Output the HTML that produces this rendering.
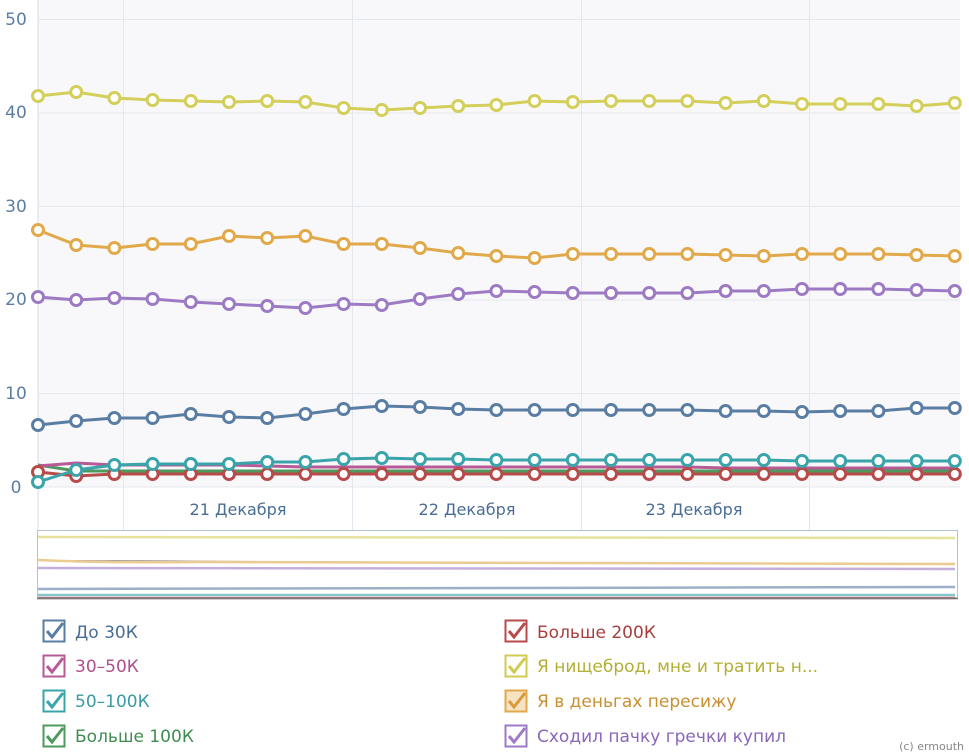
<!DOCTYPE html>
<html><head><meta charset="utf-8"><style>
body{margin:0;background:#fff;width:969px;height:755px;overflow:hidden;font-family:Tahoma,"DejaVu Sans","Liberation Sans",sans-serif}
</style></head><body>
<svg id="s" width="969" height="755" xmlns="http://www.w3.org/2000/svg" style="position:absolute;left:0;top:0">
<rect x="38" y="0" width="922" height="487" fill="#f8f8fa"/>
<line x1="38" y1="0" x2="38" y2="530" stroke="#d5dbe5" stroke-width="1"/>
<g stroke="#e3e7ee" stroke-width="1">
<line x1="38" y1="19.5" x2="960" y2="19.5"/><line x1="38" y1="113" x2="960" y2="113"/><line x1="38" y1="206.5" x2="960" y2="206.5"/><line x1="38" y1="300" x2="960" y2="300"/><line x1="38" y1="393.5" x2="960" y2="393.5"/><line x1="38" y1="487" x2="960" y2="487"/>
<line x1="123.5" y1="0" x2="123.5" y2="530"/><line x1="352.5" y1="0" x2="352.5" y2="530"/><line x1="581.5" y1="0" x2="581.5" y2="530"/><line x1="809.5" y1="0" x2="809.5" y2="530"/>
</g>
<g fill="#5a7da4" font-size="17" text-anchor="middle">
<text x="16" y="25">50</text><text x="16" y="118">40</text><text x="16" y="212">30</text><text x="16" y="305">20</text><text x="16" y="399">10</text><text x="16" y="493">0</text>
</g>
<g fill="#4a6d96" font-size="16" text-anchor="middle">
<text x="238" y="515">21 Декабря</text><text x="467" y="515">22 Декабря</text><text x="694" y="515">23 Декабря</text>
</g>
<rect x="37.5" y="530.5" width="920" height="67" fill="#fff" stroke="#b4c3d4"/>
<g stroke-width="2.5" opacity="0.6">
<path d="M38 537 L955 538" stroke="#d3cf5a"/>
<path d="M38 560 Q100 563 200 562 L955 564" stroke="#e1a94a"/>
<path d="M38 568 L955 569" stroke="#9d7bc4"/>
<path d="M38 589 L955 587" stroke="#5a7da4"/>
<path d="M38 595 L955 595" stroke="#3aa4ab"/>
<path d="M38 598 L955 598" stroke="#b84a4a"/>
</g>
<line x1="37" y1="598.5" x2="958" y2="598.5" stroke="#777" stroke-width="1.5"/>
<g id="series"></g>
<g font-size="17">
<g transform="translate(43,620)"><rect x="0.5" y="0.5" width="21" height="21" fill="none" stroke="#5a7da4" stroke-width="2"/><path d="M4 11 L9 17 L20 3" fill="none" stroke="#5a7da4" stroke-width="3"/></g>
<text x="75" y="638" fill="#4a6d96">До 30К</text>
<g transform="translate(43,655)"><rect x="0.5" y="0.5" width="21" height="21" fill="none" stroke="#b85a96" stroke-width="2"/><path d="M4 11 L9 17 L20 3" fill="none" stroke="#b85a96" stroke-width="3"/></g>
<text x="75" y="672" fill="#b04e8c">30–50К</text>
<g transform="translate(43,690)"><rect x="0.5" y="0.5" width="21" height="21" fill="none" stroke="#3aa4ab" stroke-width="2"/><path d="M4 11 L9 17 L20 3" fill="none" stroke="#3aa4ab" stroke-width="3"/></g>
<text x="75" y="707" fill="#3a9aa4">50–100К</text>
<g transform="translate(43,725)"><rect x="0.5" y="0.5" width="21" height="21" fill="none" stroke="#4e9a5e" stroke-width="2"/><path d="M4 11 L9 17 L20 3" fill="none" stroke="#4e9a5e" stroke-width="3"/></g>
<text x="75" y="742" fill="#3f8d52">Больше 100К</text>
<g transform="translate(505,620)"><rect x="0.5" y="0.5" width="21" height="21" fill="none" stroke="#b84a4a" stroke-width="2"/><path d="M4 11 L9 17 L20 3" fill="none" stroke="#b84a4a" stroke-width="3"/></g>
<text x="537" y="638" fill="#a83e3e">Больше 200К</text>
<g transform="translate(505,655)"><rect x="0.5" y="0.5" width="21" height="21" fill="none" stroke="#cfcb50" stroke-width="2"/><path d="M4 11 L9 17 L20 3" fill="none" stroke="#cfcb50" stroke-width="3"/></g>
<text x="537" y="672" fill="#b3ae34">Я нищеброд, мне и тратить н...</text>
<g transform="translate(505,690)"><rect x="0.5" y="0.5" width="21" height="21" fill="#f6e3c4" stroke="#e1a94a" stroke-width="2"/><path d="M4 11 L9 17 L20 3" fill="none" stroke="#d99a3a" stroke-width="3"/></g>
<text x="537" y="707" fill="#c98f30">Я в деньгах пересижу</text>
<g transform="translate(505,725)"><rect x="0.5" y="0.5" width="21" height="21" fill="none" stroke="#9d7bc4" stroke-width="2"/><path d="M4 11 L9 17 L20 3" fill="none" stroke="#9d7bc4" stroke-width="3"/></g>
<text x="537" y="742" fill="#8a66b8">Сходил пачку гречки купил</text>
</g>
<text x="964" y="750" font-size="11" fill="#888" text-anchor="end">(c) ermouth</text>
</svg>
<script>
var S=[
["#4e9a5e",[465,471,471,471,471,471,471,471,471,471,471,471,471,471,471,471,471,471,471,471,471,471,471,471,471],false],
["#b85a96",[466,463,465,465,465,465,466,467,467,467,467,467,467,467,467,467,467,467,468,468,468,468,468,468,468],false],
["#b84a4a",[472,476,474,474,474,474,474,474,474,474,474,474,474,474,474,474,474,474,474,474,474,474,474,474,474],true],
["#3aa4ab",[482,470,465,464,464,464,462,462,459,458,459,459,460,460,460,460,460,460,460,460,461,461,461,461,461],true],
["#5a7da4",[425,421,418,418,414,417,418,414,409,406,407,409,410,410,410,410,410,410,411,411,412,411,411,408,408],true],
["#9d7bc4",[297,300,298,299,302,304,306,308,304,305,299,294,291,292,293,293,293,293,291,291,289,289,289,290,291],true],
["#e1a94a",[230,245,248,244,244,236,238,236,244,244,248,253,256,258,254,254,254,254,255,256,254,254,254,255,256],true],
["#d3cf5a",[96,92,98,100,101,102,101,102,108,110,108,106,105,101,102,101,101,101,103,101,104,104,104,106,103],true]];
var g=document.getElementById('series'),h='';
S.forEach(function(s){var p=s[1].map(function(y,i){return (38+i*38.2).toFixed(1)+','+y}).join(' ');
h+='<polyline points="'+p+'" fill="none" stroke="'+s[0]+'" stroke-width="3"/>';
if(s[2])s[1].forEach(function(y,i){h+='<circle cx="'+(38+i*38.2).toFixed(1)+'" cy="'+y+'" r="5.5" fill="#fff" stroke="'+s[0]+'" stroke-width="3"/>';});});
g.innerHTML=h;
</script>
</body></html>
